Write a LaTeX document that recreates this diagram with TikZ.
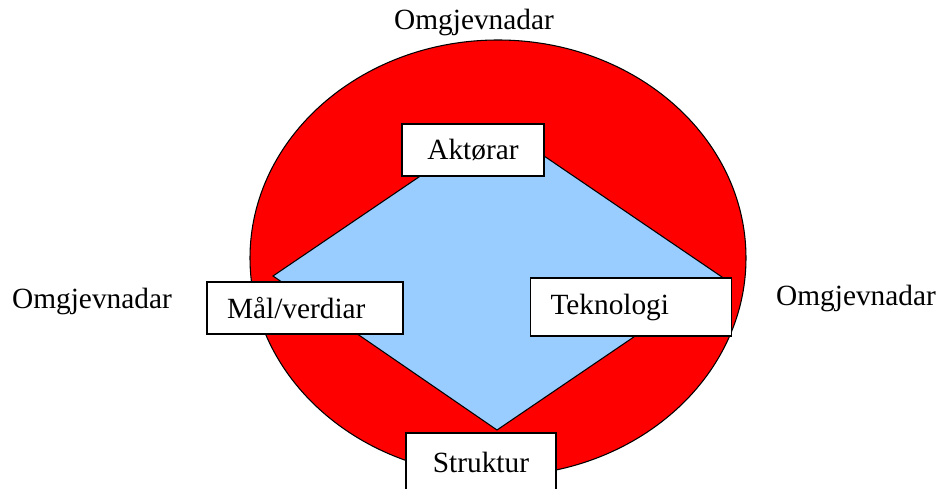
\documentclass[tikz,border=0pt]{standalone}
\usepackage{fontspec}
\setmainfont{Liberation Serif}
\definecolor{omgred}{HTML}{FF0000}
\definecolor{kjerneblue}{HTML}{99CCFF}
\tikzset{
  tekst/.style={font=\fontsize{22}{26}\selectfont, inner sep=0pt},
  boks/.style={tekst, draw, line width=1pt, fill=white, minimum height=39pt},
}
\begin{document}
\begin{tikzpicture}[x=0.75pt,y=-0.75pt]
    \useasboundingbox (0,0) rectangle (940,489);

    % omgjevnader
    \draw[fill=omgred, line width=0.8pt] (498,258) ellipse [x radius=186pt, y radius=163.5pt];

    % kjernen
    \coordinate (topp) at (497,124);
    \coordinate (venstre) at (273,276);
    \coordinate (hogre) at (722,277);
    \coordinate (botn) at (497,430);
    \draw[fill=kjerneblue, line width=0.8pt] (topp) -- (hogre) -- (botn) -- (venstre) -- cycle;

    \node[boks, minimum width=106.5pt] (aktorar) at (473,150) {Aktørar};
    \node[boks, text width=117pt, inner xsep=15pt, align=left] (maal) at (305,308) {Mål/verdiar};
    \node[boks, text width=120.75pt, inner xsep=15pt, align=left, minimum height=43.5pt] (tekn) at (631,307) {Teknologi};
    \node[boks, minimum width=112.5pt, minimum height=43.5pt] (struktur) at (481,462) {Struktur};

    \node[tekst] (omg-topp) at (474,22) {Omgjevnadar};
    \node[tekst] (omg-venstre) at (92,301) {Omgjevnadar};
    \node[tekst] (omg-hogre) at (856,298) {Omgjevnadar};
\end{tikzpicture}
\end{document}
